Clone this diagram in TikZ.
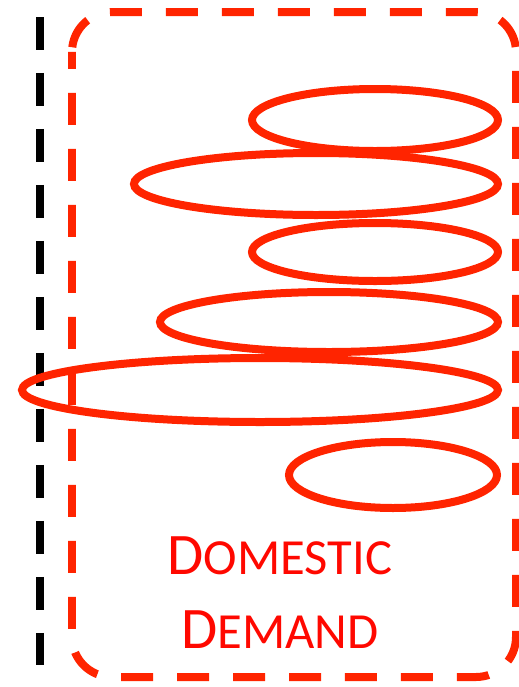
\documentclass[tikz,border=0pt]{standalone}
\usepackage{xcolor}
\usepackage{fontspec}
\setmainfont{Carlito}
\usepackage{tikz}
\usetikzlibrary{arrows.meta, positioning, calc}

\definecolor{loopred}{RGB}{255,36,0}
\definecolor{textred}{RGB}{255,8,0}
\newcommand{\fakecaps}[2]{{\fontsize{33.5}{40}\selectfont #1}{\fontsize{28.8}{34}\selectfont #2}}

\begin{document}
\begin{tikzpicture}[
  x=0.02cm, y=-0.02cm,
  border/.style={draw=black, line width=0.16cm, dash pattern=on 0.66cm off 0.46cm},
  demandbox/.style={draw=loopred, line width=0.16cm, rounded corners=0.8cm,
    dash pattern=on 0.64cm off 0.48cm, dash phase=0.3cm},
  loop/.style={draw=loopred, line width=0.16cm},
  caption/.style={text=textred, anchor=base, inner sep=0pt}
]
  \useasboundingbox (0,0) rectangle (518,687);
  \coordinate (top) at (40,17);
  \coordinate (bottom) at (40,665);
  \draw[border] (top) -- (bottom);
  \draw[demandbox] (72,12) rectangle (516,677);
  \draw[loop] (375,120) ellipse [x radius=123, y radius=31];
  \draw[loop] (316,184) ellipse [x radius=182, y radius=31];
  \draw[loop] (375,252) ellipse [x radius=123, y radius=29];
  \draw[loop] (329,322) ellipse [x radius=169, y radius=30];
  \draw[loop] (260,390) ellipse [x radius=238, y radius=32];
  \draw[loop] (393,475) ellipse [x radius=104, y radius=33];
  \node[caption] (domestic) at (280,574) {\fakecaps{D}{OMESTIC}};
  \node[caption] (demand) at (280,648) {\fakecaps{D}{EMAND}};
\end{tikzpicture}
\end{document}
